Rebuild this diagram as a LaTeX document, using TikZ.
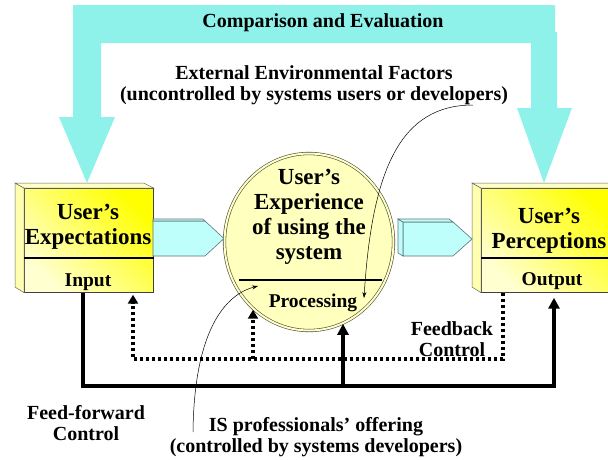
\documentclass[tikz,border=0pt]{standalone}
\usepackage{fontspec}
\setmainfont{Liberation Serif}
\usetikzlibrary{arrows.meta,positioning,calc,shapes.geometric}

\definecolor{bandcyan}{RGB}{142,242,234}
\definecolor{pipecyan}{RGB}{190,255,252}
\definecolor{pipeedge}{RGB}{95,115,115}
\definecolor{discfill}{RGB}{255,255,190}
\definecolor{boxtop}{RGB}{255,255,0}
\definecolor{boxlow}{RGB}{255,255,210}
\definecolor{boxside}{RGB}{255,255,175}
\definecolor{boxlid}{RGB}{255,255,200}

\begin{document}
\begin{tikzpicture}[x=1pt,y=-1pt,
		boxface/.style={draw=black!75, line width=0.7pt, shade, top color=boxtop, bottom color=boxlow, shading angle=-45, inner sep=0pt, minimum width=129pt, minimum height=104pt, anchor=north west},
		face/.style={draw=black!60, line width=0.5pt, fill=boxside},
		pipe/.style={draw=pipeedge, line width=0.6pt, fill=pipecyan},
		headtext/.style={font=\fontsize{23}{25}\selectfont\bfseries, align=center, inner sep=0pt},
		lbl/.style={font=\fontsize{20}{20.5}\selectfont\bfseries, align=center, inner sep=0pt},
		io/.style={font=\fontsize{19.5}{20}\selectfont\bfseries, inner sep=0pt},
		fwd/.style={line width=4pt, -{Triangle[length=11pt,width=11pt]}},
		fbline/.style={line width=3.2pt, dash pattern=on 3pt off 3pt, -{Triangle[length=9pt,width=10pt]}},
		remark/.style={line width=0.5pt, -{Stealth[length=6pt,width=4pt]}}]
	\useasboundingbox (0,0) rectangle (608,459);

	% comparison band
	\fill[bandcyan] (73,5) -- (555,5) -- (555,32) -- (557,32) -- (557,108) -- (572,108) -- (544,183) -- (517,108) -- (531,108) -- (531,43) -- (101,43) -- (101,117) -- (115,117) -- (87,183) -- (59,117) -- (73,117) -- cycle;
	\node[lbl] (cmp) at (323,23) {Comparison and Evaluation};
	\node[lbl] (ext) at (314,85) {External Environmental Factors\\(uncontrolled by systems users or developers)};

	% input box
	\node[boxface] (expbox) at (24,188) {};
	\filldraw[face] (expbox.north west) -- ++(-9,-5) -- ++(0,104) -- (expbox.south west) -- cycle;
	\filldraw[face, fill=boxlid] (expbox.north west) -- ++(-9,-5) -- ($(expbox.north east)+(-10,-5)$) -- (expbox.north east) -- cycle;
	\draw[line width=1.3pt] ($(expbox.north west)+(0,70)$) -- ($(expbox.north east)+(0,70)$);
	\node[headtext] (exptxt) at (88,227) {User’s\\Expectations};
	\node[io] (input) at (88,282) {Input};

	% output box
	\node[boxface, minimum width=136pt] (perbox) at (481,188) {};
	\filldraw[face] (perbox.north west) -- ++(-9,-5) -- ++(0,104) -- (perbox.south west) -- cycle;
	\filldraw[face, fill=boxlid] (perbox.north west) -- ++(-9,-5) -- ($(perbox.north east)+(-10,-5)$) -- (perbox.north east) -- cycle;
	\draw[line width=1.3pt] ($(perbox.north west)+(0,70)$) -- ($(perbox.north east)+(0,70)$);
	\node[headtext] (pertxt) at (549,231) {User’s\\Perceptions};
	\node[io] (output) at (552,281) {Output};

	% pipes
	\filldraw[pipe] (153,221) -- (205,221) -- (224,238.5) -- (205,256) -- (153,256) -- cycle;
	\filldraw[pipe] (153,219) -- (203,219) -- (205,221) -- (153,221) -- cycle;
	\filldraw[pipe] (403,222) -- (453,222) -- (472,239) -- (453,256) -- (403,256) -- cycle;
	\filldraw[pipe] (398,219) -- (403,222) -- (403,256) -- (398,253) -- cycle;
	\filldraw[pipe] (398,219) -- (449,219) -- (453,222) -- (403,222) -- cycle;

	% processing
	\node[ellipse, draw=black!70, line width=0.6pt, double=discfill, double distance=2pt, fill=discfill, minimum width=169pt, minimum height=177pt, inner sep=0pt] (disc) at (309,242) {};
	\draw[line width=2pt] ($(disc.center)+(-70,38)$) -- ($(disc.center)+(73,38)$);
	\node[headtext] (disctxt) at (309,217) {User’s\\Experience\\of using the\\system};
	\node[io] (proc) at (313,303) {Processing};

	% feed-forward
	\coordinate (ffL) at (83,386);
	\coordinate (ffM) at (343,386);
	\coordinate (ffR) at (554,386);
	\draw[fwd, shorten >=5pt] (expbox.south -| ffL) -- (ffL) -- (ffR) -- (perbox.south -| ffR);
	\draw[fwd] (ffM) -- (ffM |- disc.-68);

	% feedback
	\coordinate (fbL) at (133,359);
	\coordinate (fbM) at (253,359);
	\coordinate (fbR) at (503,359);
	\draw[fbline, shorten >=2pt] (perbox.south -| fbR) -- (fbR) -- (fbL) -- (expbox.south -| fbL);
	\draw[fbline] (fbM) -- (fbM |- disc.-129);

	\node[lbl] (fbc) at (452,339) {Feedback\\Control};
	\node[lbl] (ffc) at (86,423) {Feed-forward\\Control};
	\node[lbl] (isp) at (316,437) {IS professionals’ offering\\(controlled by systems developers)};

	% influences
	\coordinate (extfoot) at (473,105);
	\coordinate (procin) at (364,298);
	\draw[remark] (extfoot) .. controls (400,105) and (372,170) .. (procin);
	\coordinate (isfoot) at (193,432);
	\coordinate (inpin) at (258,286);
	\draw[remark] (isfoot) .. controls (194,340) and (220,296) .. (inpin);
\end{tikzpicture}
\end{document}
